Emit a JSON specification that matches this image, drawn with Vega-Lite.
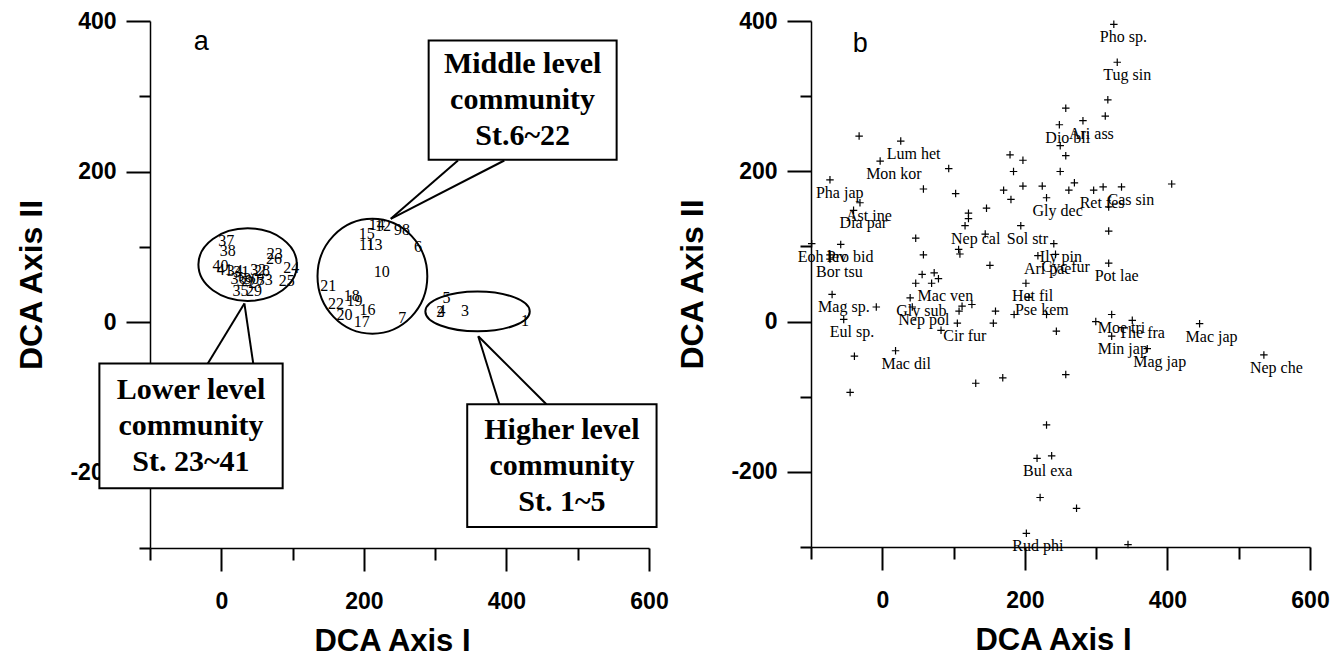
{
  "$schema": "https://vega.github.io/schema/vega-lite/v6.json",
  "padding": {"left": 15, "top": 10, "right": 0, "bottom": 0},
  "background": "white",
  "bounds": "flush",
  "spacing": 162,
  "config": {"view": {"stroke": null}},
  "datasets": {
    "stations": [
      {"x": 426, "y": 2, "label": "1"},
      {"x": 307, "y": 13, "label": "2"},
      {"x": 342, "y": 15, "label": "3"},
      {"x": 309, "y": 15, "label": "4"},
      {"x": 316, "y": 32, "label": "5"},
      {"x": 276, "y": 100, "label": "6"},
      {"x": 254, "y": 6, "label": "7"},
      {"x": 259, "y": 122, "label": "8"},
      {"x": 248, "y": 122, "label": "9"},
      {"x": 225, "y": 66, "label": "10"},
      {"x": 204, "y": 103, "label": "11"},
      {"x": 227, "y": 128, "label": "12"},
      {"x": 215, "y": 103, "label": "13"},
      {"x": 218, "y": 129, "label": "14"},
      {"x": 204, "y": 117, "label": "15"},
      {"x": 205, "y": 16, "label": "16"},
      {"x": 197, "y": 0, "label": "17"},
      {"x": 183, "y": 35, "label": "18"},
      {"x": 187, "y": 28, "label": "19"},
      {"x": 173, "y": 10, "label": "20"},
      {"x": 150, "y": 48, "label": "21"},
      {"x": 161, "y": 24, "label": "22"},
      {"x": 75, "y": 91, "label": "23"},
      {"x": 98, "y": 72, "label": "24"},
      {"x": 92, "y": 55, "label": "25"},
      {"x": 74, "y": 84, "label": "26"},
      {"x": 49, "y": 52, "label": "27"},
      {"x": 57, "y": 68, "label": "28"},
      {"x": 46, "y": 42, "label": "29"},
      {"x": 42, "y": 57, "label": "30"},
      {"x": 28, "y": 66, "label": "31"},
      {"x": 52, "y": 69, "label": "32"},
      {"x": 61, "y": 56, "label": "33"},
      {"x": 19, "y": 68, "label": "34"},
      {"x": 27, "y": 42, "label": "35"},
      {"x": 24, "y": 57, "label": "36"},
      {"x": 7, "y": 108, "label": "37"},
      {"x": 9, "y": 94, "label": "38"},
      {"x": 33, "y": 55, "label": "39"},
      {"x": -1, "y": 74, "label": "40"},
      {"x": 5, "y": 69, "label": "41"}
    ],
    "callouts": [
      {"x": 332, "y": 214.7, "x2": 237.8, "y2": 137.2},
      {"x": 397, "y": 214.7, "x2": 237.8, "y2": 137.2},
      {"x": -18.9, "y": -54.8, "x2": 32.4, "y2": 24.9},
      {"x": 44.8, "y": -54.8, "x2": 32.4, "y2": 24.9},
      {"x": 390, "y": -109, "x2": 360.5, "y2": -18.8},
      {"x": 456, "y": -109, "x2": 360.5, "y2": -18.8}
    ],
    "boxes": [
      {"x": 290.9, "x2": 554.6, "y": 374, "y2": 215.8},
      {"x": -171, "x2": 86.1, "y": -54.8, "y2": -220.7},
      {"x": 345, "x2": 610.6, "y": -109, "y2": -272.2}
    ],
    "boxText": [
      {"x": 422.7, "y": 295, "text": "Middle level\ncommunity\nSt.6~22"},
      {"x": -42.5, "y": -137.8, "text": "Lower level\ncommunity\nSt. 23~41"},
      {"x": 477.8, "y": -190.6, "text": "Higher level\ncommunity\nSt. 1~5"}
    ],
    "species": [
      {"x": 324.8, "y": 395.6, "label": "Pho sp."},
      {"x": 329.6, "y": 345.1, "label": "Tug sin"},
      {"x": 281.5, "y": 267.4, "label": "Ari ass"},
      {"x": 248.4, "y": 261.9, "label": "Dio bli"},
      {"x": 25.9, "y": 240.2, "label": "Lum het"},
      {"x": -3, "y": 213.6, "label": "Mon kor"},
      {"x": -73.4, "y": 188.6, "label": "Pha jap"},
      {"x": -31.3, "y": 158.1, "label": "Ast ine"},
      {"x": -40.3, "y": 148.1, "label": "Dia par"},
      {"x": 230.4, "y": 164.8, "label": "Gly dec"},
      {"x": 296.5, "y": 174.8, "label": "Ret fes"},
      {"x": 335.6, "y": 179.2, "label": "Cas sin"},
      {"x": 116.1, "y": 127.6, "label": "Nep cal"},
      {"x": 194.3, "y": 127.6, "label": "Sol str"},
      {"x": 240.6, "y": 103.7, "label": "Ily pin"},
      {"x": 218.3, "y": 87.7, "label": "Ari pae"},
      {"x": 243, "y": 89.5, "label": "Cyc fur"},
      {"x": 317.6, "y": 77.7, "label": "Pot lae"},
      {"x": 201.5, "y": 51, "label": "Het fil"},
      {"x": 205.7, "y": 32.2, "label": "Pse kem"},
      {"x": -99, "y": 103.7, "label": "Eoh lev"},
      {"x": -58.3, "y": 102.6, "label": "Pro bid"},
      {"x": -73.4, "y": 83.2, "label": "Bor tsu"},
      {"x": -70.4, "y": 36.1, "label": "Mag sp."},
      {"x": 69.2, "y": 51, "label": "Mac ven"},
      {"x": 39.1, "y": 31.6, "label": "Gly sub"},
      {"x": 42.1, "y": 19.4, "label": "Nep pol"},
      {"x": -54.1, "y": 2.8, "label": "Eul sp."},
      {"x": 105.3, "y": -2.2, "label": "Cir fur"},
      {"x": 18.6, "y": -38.8, "label": "Mac dil"},
      {"x": 321.8, "y": 9.4, "label": "Moe tri"},
      {"x": 350.7, "y": 1.7, "label": "The fra"},
      {"x": 321.8, "y": -19.4, "label": "Min jap"},
      {"x": 371.7, "y": -36.1, "label": "Mag jap"},
      {"x": 445.1, "y": -2.8, "label": "Mac jap"},
      {"x": 535.3, "y": -44.4, "label": "Nep che"},
      {"x": 217.1, "y": -182, "label": "Bul exa"},
      {"x": 202.1, "y": -281.8, "label": "Rud phi"},
      {"x": 316.4, "y": 295.1, "label": ""},
      {"x": 312.8, "y": 273.5, "label": ""},
      {"x": 257.4, "y": 284, "label": ""},
      {"x": 249.6, "y": 234.1, "label": ""},
      {"x": 257.4, "y": 220.8, "label": ""},
      {"x": 249.6, "y": 199.7, "label": ""},
      {"x": 179.2, "y": 221.9, "label": ""},
      {"x": 197.3, "y": 214.7, "label": ""},
      {"x": 184.1, "y": 199.7, "label": ""},
      {"x": 170.2, "y": 174.8, "label": ""},
      {"x": 197.3, "y": 180.3, "label": ""},
      {"x": 224.4, "y": 180.3, "label": ""},
      {"x": 180.5, "y": 162.6, "label": ""},
      {"x": 261.7, "y": 174.8, "label": ""},
      {"x": 269.5, "y": 184.7, "label": ""},
      {"x": 309.8, "y": 179.2, "label": ""},
      {"x": 406, "y": 183.1, "label": ""},
      {"x": 317.6, "y": 152.6, "label": ""},
      {"x": 317.6, "y": 120.4, "label": ""},
      {"x": -32.5, "y": 246.9, "label": ""},
      {"x": 93.2, "y": 203.6, "label": ""},
      {"x": 57.7, "y": 176.4, "label": ""},
      {"x": 102.9, "y": 170.3, "label": ""},
      {"x": 120.9, "y": 144.2, "label": ""},
      {"x": 120.9, "y": 137, "label": ""},
      {"x": 146.2, "y": 150.9, "label": ""},
      {"x": 144.4, "y": 116.5, "label": ""},
      {"x": 46.9, "y": 111, "label": ""},
      {"x": -73.4, "y": 88.8, "label": ""},
      {"x": 57.7, "y": 88.8, "label": ""},
      {"x": 107.1, "y": 96, "label": ""},
      {"x": 108.9, "y": 89.9, "label": ""},
      {"x": 151, "y": 74.9, "label": ""},
      {"x": 55.9, "y": 62.7, "label": ""},
      {"x": 72.8, "y": 64.9, "label": ""},
      {"x": 78.8, "y": 57.1, "label": ""},
      {"x": 46.9, "y": 51, "label": ""},
      {"x": -8.4, "y": 19.4, "label": ""},
      {"x": 111.9, "y": 20.5, "label": ""},
      {"x": 125.7, "y": 22.7, "label": ""},
      {"x": 107.7, "y": 13.9, "label": ""},
      {"x": 158.8, "y": 13.9, "label": ""},
      {"x": 155.8, "y": -2.2, "label": ""},
      {"x": 82.4, "y": -11.7, "label": ""},
      {"x": -39.1, "y": -46, "label": ""},
      {"x": -45.1, "y": -94.3, "label": ""},
      {"x": 131.1, "y": -82.1, "label": ""},
      {"x": 169, "y": -74.9, "label": ""},
      {"x": 257.4, "y": -70.5, "label": ""},
      {"x": 230.4, "y": -137.6, "label": ""},
      {"x": 237.6, "y": -178.6, "label": ""},
      {"x": 221.4, "y": -234.1, "label": ""},
      {"x": 272.5, "y": -248.5, "label": ""},
      {"x": 344.7, "y": -296.8, "label": ""},
      {"x": 184.9, "y": 9.4, "label": ""},
      {"x": 230.4, "y": 9.4, "label": ""},
      {"x": 244.2, "y": -12.8, "label": ""},
      {"x": 299.5, "y": 0, "label": ""}
    ]
  },
  "hconcat": [
    {
      "width": 499,
      "height": 527,
      "encoding": {
        "x": {"field": "x", "type": "quantitative", "scale": {"domain": [-100, 600], "nice": false, "zero": false},
          "axis": {"title": "DCA Axis I", "values": [-100, 0, 100, 200, 300, 400, 500, 600], "labelExpr": "datum.value % 200 === 0 ? '' + datum.value : ''", "tickSize": {"condition": {"test": "datum.value % 200 === 0", "value": 23}, "value": 12}, "tickWidth": 2, "tickColor": "black", "domainColor": "black", "domainWidth": 1.5, "labelFont": "Liberation Sans", "labelFontWeight": "bold", "labelFontSize": 23, "labelColor": "black", "labelPadding": 19, "labelFlush": false, "labelOverlap": false, "labelBound": false, "titleFont": "Liberation Sans", "titleFontWeight": "bold", "titleFontSize": 31, "titleColor": "black", "titleX": 242, "titleY": 102, "titleBaseline": "alphabetic", "grid": false}},
        "y": {"field": "y", "type": "quantitative", "scale": {"domain": [-300, 400], "nice": false, "zero": false},
          "axis": {"title": "DCA Axis II", "values": [-300, -200, -100, 0, 100, 200, 300, 400], "labelExpr": "datum.value % 200 === 0 ? '' + datum.value : ''", "tickSize": {"condition": {"test": "datum.value % 200 === 0", "value": 24}, "value": 11}, "tickWidth": 2, "tickColor": "black", "domainColor": "black", "domainWidth": 1.5, "labelFont": "Liberation Sans", "labelFontWeight": "bold", "labelFontSize": 23, "labelColor": "black", "labelPadding": 10, "labelOverlap": false, "labelBound": false, "labelFlush": false, "titleFont": "Liberation Sans", "titleFontWeight": "bold", "titleFontSize": 32, "titleColor": "black", "titleX": -109, "titleBaseline": "alphabetic", "grid": false}}
      },
      "layer": [
        {"data": {"name": "stations"}, "mark": {"type": "text", "font": "Liberation Serif", "fontSize": 16, "color": "black", "align": "center", "baseline": "middle"}, "encoding": {"text": {"field": "label"}}},
        {"data": {"values": [{"x": 37, "y": 76.4}]}, "mark": {"type": "point", "shape": "M -1 0 C -1 -0.407 -0.5523 -0.737 0 -0.737 C 0.5523 -0.737 1 -0.407 1 0 C 1 0.407 0.5523 0.737 0 0.737 C -0.5523 0.737 -1 0.407 -1 0 Z", "size": 9702, "filled": false, "stroke": "black", "strokeWidth": 2, "opacity": 1}},
        {"data": {"values": [{"x": 212, "y": 61}]}, "mark": {"type": "point", "shape": "M -1 0 C -1 -0.5777 -0.5523 -1.046 0 -1.046 C 0.5523 -1.046 1 -0.5777 1 0 C 1 0.5777 0.5523 1.046 0 1.046 C -0.5523 1.046 -1 0.5777 -1 0 Z", "size": 12056, "filled": false, "stroke": "black", "strokeWidth": 2, "opacity": 1}},
        {"data": {"values": [{"x": 359.5, "y": 14.2}]}, "mark": {"type": "point", "shape": "M -1 0 C -1 -0.2099 -0.5523 -0.38 0 -0.38 C 0.5523 -0.38 1 -0.2099 1 0 C 1 0.2099 0.5523 0.38 0 0.38 C -0.5523 0.38 -1 0.2099 -1 0 Z", "size": 10899, "filled": false, "stroke": "black", "strokeWidth": 2, "opacity": 1}},
        {"data": {"name": "callouts"}, "mark": {"type": "rule", "color": "black", "strokeWidth": 2}, "encoding": {"x2": {"field": "x2"}, "y2": {"field": "y2"}}},
        {"data": {"name": "boxes"}, "mark": {"type": "rect", "fill": "white", "stroke": "black", "strokeWidth": 2}, "encoding": {"x2": {"field": "x2"}, "y2": {"field": "y2"}}},
        {"data": {"name": "boxText"}, "mark": {"type": "text", "font": "Liberation Serif", "fontWeight": "bold", "fontSize": 30, "lineBreak": "\n", "lineHeight": 36, "align": "center", "baseline": "middle", "dy": -36, "color": "black"}, "encoding": {"text": {"field": "text"}}},
        {"data": {"values": [{"x": -28, "y": 372, "label": "a"}]}, "mark": {"type": "text", "font": "Liberation Sans", "fontSize": 27, "align": "center", "baseline": "middle", "color": "black"}, "encoding": {"text": {"field": "label"}}}
      ]
    },
    {
      "width": 499,
      "height": 526,
      "encoding": {
        "x": {"field": "x", "type": "quantitative", "scale": {"domain": [-100, 600], "nice": false, "zero": false},
          "axis": {"title": "DCA Axis I", "values": [-100, 0, 100, 200, 300, 400, 500, 600], "labelExpr": "datum.value % 200 === 0 ? '' + datum.value : ''", "tickSize": {"condition": {"test": "datum.value % 200 === 0", "value": 23}, "value": 12}, "tickWidth": 2, "tickColor": "black", "domainColor": "black", "domainWidth": 1.5, "labelFont": "Liberation Sans", "labelFontWeight": "bold", "labelFontSize": 23, "labelColor": "black", "labelPadding": 19, "labelFlush": false, "labelOverlap": false, "labelBound": false, "titleFont": "Liberation Sans", "titleFontWeight": "bold", "titleFontSize": 31, "titleColor": "black", "titleX": 242, "titleY": 102, "titleBaseline": "alphabetic", "grid": false}},
        "y": {"field": "y", "type": "quantitative", "scale": {"domain": [-300, 400], "nice": false, "zero": false},
          "axis": {"title": "DCA Axis II", "values": [-300, -200, -100, 0, 100, 200, 300, 400], "labelExpr": "datum.value % 200 === 0 ? '' + datum.value : ''", "tickSize": {"condition": {"test": "datum.value % 200 === 0", "value": 24}, "value": 11}, "tickWidth": 2, "tickColor": "black", "domainColor": "black", "domainWidth": 1.5, "labelFont": "Liberation Sans", "labelFontWeight": "bold", "labelFontSize": 23, "labelColor": "black", "labelPadding": 10, "labelOverlap": false, "labelBound": false, "labelFlush": false, "titleFont": "Liberation Sans", "titleFontWeight": "bold", "titleFontSize": 32, "titleColor": "black", "titleX": -109, "titleBaseline": "alphabetic", "grid": false}}
      },
      "layer": [
        {"data": {"name": "species"}, "mark": {"type": "point", "shape": "M -1 0 L 1 0 M 0 -1 L 0 1", "size": 56, "filled": false, "stroke": "black", "strokeWidth": 1.2, "opacity": 1}},
        {"data": {"name": "species"}, "mark": {"type": "text", "font": "Liberation Serif", "fontSize": 16, "color": "black", "align": "left", "baseline": "middle", "dx": -14, "dy": 13}, "encoding": {"text": {"field": "label"}}},
        {"data": {"values": [{"x": -31, "y": 370, "label": "b"}]}, "mark": {"type": "text", "font": "Liberation Sans", "fontSize": 27, "align": "center", "baseline": "middle", "color": "black"}, "encoding": {"text": {"field": "label"}}}
      ]
    }
  ]
}
